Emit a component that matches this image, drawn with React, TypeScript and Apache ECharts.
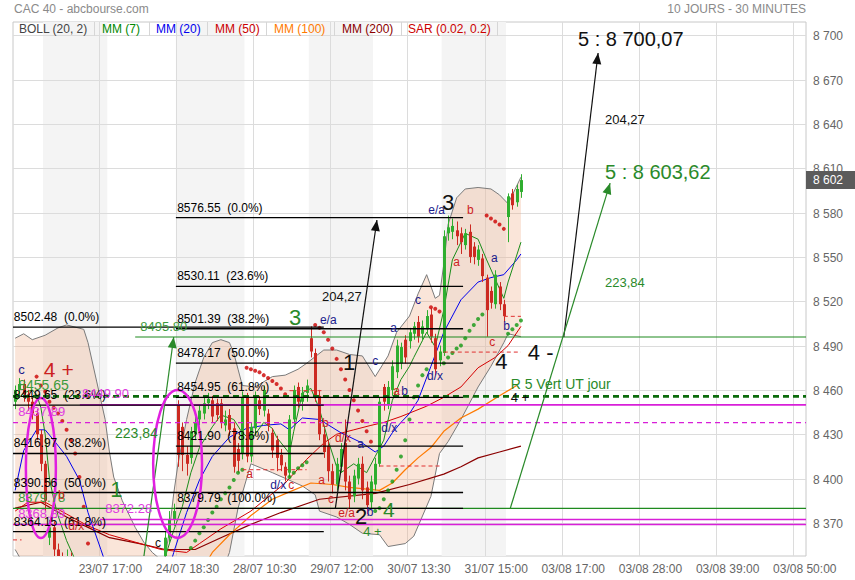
import React, { useEffect, useRef } from "react";
import * as echarts from "echarts";

const FONT = '"Liberation Sans", Arial, Helvetica, sans-serif';

// ---------- axes ----------
const TOTAL_BARS = 185;
const FIRST_LABEL_BAR = 20;
const BARS_PER_LABEL = 18;
const tickLabels = [
  "23/07 17:00", "24/07 18:30", "28/07 10:30", "29/07 12:00", "30/07 13:30",
  "31/07 15:00", "03/08 17:00", "03/08 28:00", "03/08 39:00", "03/08 50:00",
];
const priceTicks = [8370, 8400, 8430, 8460, 8490, 8520, 8550, 8580, 8610, 8640, 8670, 8700];
const Y_MIN = 8347.6;
const Y_MAX = 8709;
const lastPrice = 8602;
const dayShading = [[7, 21], [38, 53], [69, 83], [100, 114]];

// ---------- candles [open, close, low, high] ----------
const candles = [
  [8452, 8460, 8447, 8463], [8460, 8464, 8456, 8468], [8464, 8457, 8452, 8467], [8457, 8452, 8446, 8460],
  [8452, 8444, 8440, 8455], [8444, 8430, 8426, 8447], [8430, 8410, 8405, 8433], [8410, 8385, 8378, 8412],
  [8360, 8367, 8355, 8372], [8367, 8352, 8347, 8371], [8352, 8344, 8338, 8356], [8344, 8336, 8330, 8350],
  [8336, 8346, 8330, 8352], [8346, 8334, 8328, 8350], [8334, 8325, 8318, 8338], [8325, 8318, 8312, 8330],
  [8318, 8310, 8304, 8322], [8310, 8315, 8305, 8320], [8315, 8306, 8300, 8318], [8306, 8300, 8294, 8310],
  [8300, 8308, 8296, 8312], [8308, 8302, 8298, 8312], [8296, 8290, 8284, 8300], [8290, 8295, 8286, 8299],
  [8295, 8288, 8283, 8298], [8288, 8294, 8285, 8297], [8294, 8300, 8290, 8304], [8300, 8296, 8291, 8305],
  [8296, 8305, 8294, 8309], [8305, 8310, 8300, 8314], [8310, 8306, 8301, 8315], [8306, 8316, 8303, 8320],
  [8316, 8322, 8312, 8326], [8322, 8330, 8318, 8334], [8330, 8338, 8326, 8342], [8342, 8360, 8338, 8364],
  [8360, 8372, 8356, 8378], [8372, 8378, 8368, 8383], [8450, 8416, 8408, 8453], [8435, 8416, 8405, 8438],
  [8416, 8410, 8402, 8422], [8414, 8432, 8410, 8435], [8430, 8438, 8426, 8442], [8440, 8446, 8436, 8450],
  [8444, 8451, 8440, 8455], [8451, 8454, 8447, 8458], [8453, 8442, 8438, 8456], [8451, 8443, 8439, 8454],
  [8451, 8438, 8434, 8454], [8436, 8440, 8432, 8446], [8443, 8433, 8429, 8447], [8434, 8408, 8404, 8438],
  [8420, 8412, 8404, 8424], [8417, 8455, 8413, 8459], [8455, 8415, 8411, 8458], [8415, 8435, 8411, 8438],
  [8434, 8456, 8430, 8459], [8453, 8447, 8443, 8456], [8446, 8460, 8442, 8463], [8444, 8436, 8432, 8447],
  [8431, 8419, 8414, 8434], [8426, 8414, 8405, 8429], [8416, 8409, 8405, 8420], [8408, 8402, 8398, 8411],
  [8404, 8440, 8401, 8443], [8440, 8460, 8436, 8463], [8462, 8452, 8448, 8465], [8452, 8458, 8446, 8462],
  [8458, 8463, 8452, 8467], [8495, 8486, 8482, 8503], [8485, 8456, 8452, 8488], [8456, 8430, 8426, 8460],
  [8430, 8418, 8414, 8434], [8422, 8405, 8398, 8426], [8405, 8396, 8390, 8410], [8396, 8410, 8392, 8414],
  [8408, 8420, 8404, 8424], [8424, 8398, 8392, 8440], [8398, 8386, 8380, 8402], [8388, 8402, 8384, 8406],
  [8400, 8410, 8396, 8414], [8410, 8392, 8386, 8415], [8394, 8382, 8376, 8398], [8384, 8398, 8380, 8402],
  [8396, 8410, 8392, 8414], [8410, 8452, 8408, 8455], [8462, 8452, 8446, 8464], [8450, 8462, 8447, 8466],
  [8460, 8476, 8456, 8480], [8472, 8490, 8468, 8494], [8478, 8489, 8474, 8492], [8494, 8482, 8478, 8497],
  [8493, 8499, 8488, 8502], [8498, 8503, 8494, 8506], [8506, 8496, 8492, 8510], [8498, 8503, 8493, 8507],
  [8501, 8510, 8498, 8514], [8511, 8496, 8492, 8515], [8495, 8474, 8470, 8498], [8480, 8486, 8476, 8490],
  [8485, 8564, 8483, 8568], [8566, 8570, 8561, 8578], [8567, 8571, 8562, 8576], [8568, 8564, 8558, 8574],
  [8566, 8560, 8552, 8570], [8558, 8566, 8555, 8569], [8567, 8550, 8546, 8572], [8557, 8550, 8545, 8560],
  [8548, 8555, 8544, 8558], [8549, 8537, 8533, 8552], [8536, 8514, 8496, 8538], [8527, 8519, 8515, 8530],
  [8518, 8538, 8515, 8541], [8530, 8518, 8514, 8533], [8518, 8510, 8506, 8521], [8577, 8591, 8560, 8593],
  [8593, 8585, 8582, 8596], [8587, 8596, 8584, 8599], [8594, 8602, 8590, 8606],
];

// ---------- indicators [bar, value] ----------
const bollUpper = [
  [0, 8495], [2, 8498], [4, 8494], [7, 8497], [10, 8502], [12, 8504], [16, 8501], [17, 8492], [19, 8466],
  [21, 8440], [22, 8418], [23, 8401], [25, 8385], [28, 8367], [30, 8357], [32, 8350], [34, 8345], [35, 8347],
  [36, 8365], [37, 8390], [38, 8410], [40, 8440], [42, 8465], [44, 8482], [46, 8492], [48, 8494], [50, 8492],
  [51, 8485], [52, 8474], [53, 8463], [56, 8462], [60, 8469], [63, 8470], [66, 8474], [68, 8478], [72, 8487],
  [75, 8487], [78, 8484], [81, 8483], [84, 8469], [87, 8483], [89, 8499], [92, 8510], [94, 8525], [96, 8538],
  [98, 8522], [99, 8524], [100, 8545], [101, 8572], [103, 8590], [105, 8596], [108, 8597], [111, 8596],
  [113, 8592], [115, 8586], [117, 8598], [118, 8604],
];
const bollLower = [
  [0, 8352], [1, 8347], [3, 8336], [6, 8320], [10, 8290], [20, 8250], [30, 8240], [40, 8260], [45, 8300],
  [48, 8335], [50, 8350], [52, 8380], [55, 8410], [60, 8404], [67, 8395], [70, 8389], [71, 8378], [75, 8374],
  [78, 8369], [81, 8363], [85, 8362], [87, 8354], [91, 8356], [93, 8361], [97, 8388], [99, 8417], [101, 8425],
  [104, 8440], [108, 8462], [111, 8476], [114, 8492], [115, 8498], [118, 8496],
];
const mm7 = [
  [0, 8452], [2, 8458], [4, 8460], [5, 8457], [6, 8448], [7, 8430], [8, 8400], [9, 8386], [10, 8375],
  [12, 8358], [14, 8345], [16, 8330], [25, 8300], [33, 8315], [35, 8347], [37, 8365], [39, 8381], [41, 8404],
  [43, 8421], [46, 8435], [48, 8443], [51, 8440], [53, 8431], [55, 8426], [58, 8438], [60, 8434], [61, 8428],
  [64, 8417], [65, 8432], [67, 8458], [69, 8461], [71, 8447], [73, 8426], [75, 8408], [76, 8404], [79, 8410],
  [81, 8406], [82, 8404], [84, 8415], [86, 8426], [88, 8453], [90, 8467], [92, 8476], [93, 8482], [96, 8499],
  [98, 8489], [100, 8514], [102, 8548], [105, 8566], [108, 8562], [110, 8548], [112, 8535], [114, 8522],
  [115, 8533], [118, 8560],
];
const mm20 = [
  [0, 8392], [2, 8419], [5, 8433], [7, 8433], [9, 8426], [12, 8415], [15, 8399], [17, 8377], [20, 8352],
  [22, 8335], [30, 8300], [35, 8330], [37, 8350], [40, 8377], [43, 8399], [46, 8415], [50, 8428], [54, 8434],
  [58, 8436], [62, 8437], [64, 8433], [67, 8441], [71, 8440], [76, 8431], [81, 8424], [84, 8418], [86, 8422],
  [88, 8431], [90, 8438], [92, 8444], [94, 8453], [97, 8476], [100, 8499], [104, 8521], [108, 8533],
  [111, 8536], [114, 8538], [117, 8548], [118, 8552],
];
const mm50 = [
  [0, 8378], [3, 8384], [7, 8384], [12, 8376], [17, 8368], [22, 8362], [28, 8357], [34, 8352], [40, 8350],
  [43, 8356], [48, 8366], [55, 8378], [63, 8397], [68, 8413], [72, 8424], [75, 8430], [79, 8433], [83, 8436],
  [86, 8438], [90, 8442], [96, 8449], [100, 8455], [104, 8462], [108, 8475], [112, 8482], [115, 8490],
  [118, 8503],
];
const mm100 = [
  [44, 8340], [46, 8350], [50, 8362], [55, 8375], [60, 8386], [64, 8391], [69, 8397], [74, 8396], [78, 8394],
  [85, 8392], [88, 8397], [91, 8406], [94, 8414], [97, 8421], [100, 8432], [104, 8441], [108, 8447],
  [113, 8456], [117, 8463],
];
const mm200 = [
  [0, 8380], [6, 8384], [12, 8374], [17, 8367], [22, 8360], [29, 8356], [35, 8352], [42, 8352], [48, 8360],
  [55, 8369], [62, 8377], [71, 8386], [84, 8390], [92, 8396], [100, 8403], [104, 8408], [108, 8414],
  [113, 8418], [118, 8422],
];
const sarRed = [
  [5, 8469], [6, 8463], [7, 8459], [8, 8452], [9, 8448], [10, 8444], [11, 8439], [12, 8433], [13, 8426],
  [14, 8417], [15, 8401], [16, 8381], [17, 8356],
  [54, 8475], [55, 8474], [56, 8473], [57, 8472], [58, 8470], [59, 8468], [60, 8466], [61, 8464], [62, 8461],
  [63, 8457],
  [70, 8504], [71, 8502], [72, 8499], [73, 8494], [74, 8488], [75, 8481], [76, 8474], [77, 8467], [78, 8460],
  [79, 8453], [80, 8446], [81, 8439], [82, 8432], [83, 8425],
  [97, 8516], [98, 8515], [99, 8513],
  [110, 8578], [111, 8576], [112, 8574], [113, 8572], [114, 8569],
];
const sarGreen = [
  [38, 8335], [39, 8341], [40, 8347], [41, 8353], [42, 8358], [43, 8363], [44, 8367], [45, 8372], [46, 8377],
  [47, 8381], [48, 8386], [49, 8390], [50, 8394], [51, 8399], [52, 8404], [53, 8406],
  [64, 8401], [65, 8404], [66, 8407], [67, 8409], [68, 8411],
  [84, 8378], [85, 8380], [86, 8386], [87, 8392], [88, 8398], [89, 8406], [90, 8415], [91, 8426], [92, 8440],
  [93, 8455], [94, 8463], [95, 8470], [96, 8474],
  [100, 8478], [101, 8482], [102, 8485], [103, 8488], [104, 8490], [105, 8495], [106, 8500], [107, 8504],
  [108, 8508], [109, 8511],
  [115, 8498], [116, 8501], [117, 8504], [118, 8507],
];

// ---------- drawn annotations ----------
const fibLeftLevels = [8502.48, 8449.65, 8416.97, 8390.56, 8364.15];
const fibLeftPct = ["0.0%", "23.6%", "38.2%", "50.0%", "61.8%"];
const fibLeftEnd = [72, 72, 72, 104.5, 72];
const fibRightLevels = [8576.55, 8530.11, 8501.39, 8478.17, 8454.95, 8421.9, 8379.79];
const fibRightPct = ["0.0%", "23.6%", "38.2%", "50.0%", "61.8%", "78.6%", "100.0%"];

const levelLines = [
  { v: 8455.65, from: -0.5, color: "#0b6b0b", width: 2.6, dash: [6, 4], at: 0.7, size: 14, tc: "#3c9a3c" },
  { v: 8379.78, from: -0.5, color: "#1f8a1f", width: 1.2, at: 0.7, size: 13, tc: "#3c9a3c" },
  { v: 8495.8, from: 28, color: "#1f8a1f", width: 1.2, at: 29.2, size: 13, tc: "#3c9a3c" },
  { v: 8449.9, from: 15.1, color: "#d81fd8", width: 1.6, at: 15.6, size: 13, tc: "#e040e0" },
  { v: 8437.89, from: -0.5, color: "#d81fd8", width: 1.2, dash: [5, 4], at: 0.7, size: 13, tc: "#e040e0" },
  { v: 8372.28, from: 19.8, color: "#d81fd8", width: 1.6, at: 21, size: 13, tc: "#e040e0" },
  { v: 8368.89, from: -0.5, color: "#d81fd8", width: 1.6, at: 0.7, size: 13, tc: "#e040e0" },
];
const redDashed = [
  [-0.5, 8358.5, 1.5], [53, 8406, 68], [64, 8459.5, 72], [85, 8408.5, 99], [100, 8485.6, 118], [114, 8509.8, 118],
];
const arrows = [
  { from: [74.7, 8379.8], to: [84.4, 8575], color: "#111111" },
  { from: [128, 8495.8], to: [136, 8688], color: "#111111" },
  { from: [26.5, 8272], to: [37, 8495.8], color: "#2a8a2a" },
  { from: [115.5, 8379.78], to: [138.8, 8600], color: "#2a8a2a" },
];
const ellipses = [
  { c: [6, 8407.2], rx: 3.5, ry: 47.4 },
  { c: [37.9, 8410], rx: 5.7, ry: 50 },
];
const NAVY = "#1a1a8c", RED = "#cc1f1f", GREEN = "#2a8a2a", BLACK = "#111111";
const texts = [
  ["5 : 8 700,07", 131.3, 8697.3, BLACK, 20],
  ["204,27", 137.6, 8643.1, BLACK, 13],
  ["5 : 8 603,62", 137.6, 8607.8, GREEN, 20],
  ["223,84", 137.6, 8532.6, GREEN, 13],
  ["204,27", 71.6, 8523.1, BLACK, 13],
  ["3", 63.9, 8508.9, GREEN, 22],
  ["e/a", 71.1, 8507.5, NAVY, 12],
  ["1", 76.5, 8478.4, BLACK, 22],
  ["c", 83.3, 8479.8, NAVY, 12],
  ["a", 87.5, 8502, NAVY, 12],
  ["c", 93.3, 8521.1, NAVY, 12],
  ["e/a", 96.4, 8582, NAVY, 12],
  ["3", 99.6, 8586.8, BLACK, 22],
  ["b", 105.4, 8582, RED, 12],
  ["a", 102.2, 8546.8, RED, 12],
  ["a", 111, 8549.6, NAVY, 12],
  ["b", 113.9, 8503.5, NAVY, 12],
  ["c", 110.6, 8492.6, RED, 12],
  ["4", 112, 8479, BLACK, 22],
  ["4 -", 119.6, 8485.2, BLACK, 22],
  ["R 5 Vert UT jour", 115.6, 8464.2, GREEN, 14],
  ["4 +", 115.6, 8454.7, BLACK, 13],
  ["d/x", 96.1, 8469.6, NAVY, 12],
  ["a", 88.2, 8459.4, RED, 12],
  ["b", 90.1, 8459.4, NAVY, 12],
  ["d/x", 85.4, 8434.3, NAVY, 12],
  ["a", 79.8, 8423.5, NAVY, 12],
  ["d/x", 74.6, 8427.6, RED, 12],
  ["b", 71.6, 8437.7, RED, 12],
  ["a", 70.7, 8399.1, RED, 12],
  ["c", 73, 8386.2, RED, 12],
  ["e/a", 75.4, 8376.7, RED, 12],
  ["2", 79.3, 8374.5, BLACK, 22],
  ["b", 82, 8377.4, NAVY, 12],
  ["4", 85.8, 8378.8, GREEN, 21],
  ["4 +", 81.2, 8364.5, GREEN, 13],
  ["d/x", 59.5, 8395.7, NAVY, 12],
  ["c", 63.7, 8395.7, RED, 12],
  ["a", 53.9, 8403.2, RED, 12],
  ["c", 32.6, 8356.4, BLACK, 12],
  ["1", 22.2, 8392.3, GREEN, 22],
  ["223,84", 23.3, 8431, GREEN, 14],
  ["c", 0.7, 8473.6, NAVY, 13],
  ["4 +", 6.7, 8473.6, RED, 21],
  ["b", 10, 8389, RED, 12],
  ["d/x", 12.4, 8368, RED, 12],
];

const legendItems = [
  ["BOLL (20, 2)", 19, "#444444"], ["MM (7)", 102, "#008800"], ["MM (20)", 156, "#0000ee"],
  ["MM (50)", 215, "#cc0000"], ["MM (100)", 274, "#ff7a00"], ["MM (200)", 342, "#8b0000"],
  ["SAR (0.02, 0.2)", 408, "#cc0000"],
];
const legendSeparators = [94, 149, 207, 266, 334, 401, 497];

// ---------- helpers ----------
const categories = Array.from({ length: TOTAL_BARS }, (_, i) => String(i));
const labelIndex = (i: number) => {
  const k = (i - FIRST_LABEL_BAR) / BARS_PER_LABEL;
  return Number.isInteger(k) && k >= 0 && k < tickLabels.length ? k : -1;
};
const fmtPrice = (v: number) => `${Math.floor(v / 1000)} ${String(v % 1000).padStart(3, "0")}`;
const candleData = candles.map((c, i) => [i, c[0], c[1], c[2], c[3]]);

function makePx(api: any) {
  const bw = api.size([1, 0])[0];
  return (i: number, v: number) => {
    const b = Math.floor(i);
    const p = api.coord([b, v]);
    return [p[0] + (i - b) * bw, p[1]];
  };
}

function renderBackground(params: any, api: any) {
  const px = makePx(api);
  const cs = params.coordSys;
  const children: any[] = [];
  dayShading.forEach(([a, b]) => {
    const x1 = px(a - 0.5, Y_MAX)[0];
    const x2 = px(b + 0.5, Y_MAX)[0];
    children.push({ type: "rect", shape: { x: x1, y: cs.y, width: x2 - x1, height: cs.height }, style: { fill: "#f4f4f4" } });
  });
  for (let i = FIRST_LABEL_BAR; i < TOTAL_BARS; i += BARS_PER_LABEL) {
    const x = Math.round(px(i - 0.5, Y_MAX)[0]) + 0.5;
    children.push({ type: "line", shape: { x1: x, y1: cs.y, x2: x, y2: cs.y + cs.height }, style: { stroke: "#dcdcdc", lineWidth: 1 } });
  }
  priceTicks.forEach((v) => {
    const y = Math.round(px(0, v)[1]) + 0.5;
    children.push({ type: "line", shape: { x1: cs.x, y1: y, x2: cs.x + cs.width, y2: y }, style: { stroke: "#dcdcdc", lineWidth: 1 } });
    children.push({
      type: "text", x: cs.x + cs.width + 7, y,
      style: { text: fmtPrice(v), fill: "#666666", fontSize: 12, fontFamily: FONT, align: "left", verticalAlign: "middle" },
    });
  });
  const yp = px(0, lastPrice)[1];
  children.push({ type: "rect", shape: { x: cs.x + cs.width, y: yp - 9, width: 60, height: 18 }, style: { fill: "#5b5b5b" }, z2: 10 });
  children.push({
    type: "text", x: cs.x + cs.width + 7, y: yp, z2: 11,
    style: { text: fmtPrice(lastPrice), fill: "#ffffff", fontSize: 12, fontFamily: FONT, align: "left", verticalAlign: "middle" },
  });
  return { type: "group", children };
}

function renderBandFill(params: any, api: any) {
  const px = makePx(api);
  const pts = [
    ...bollUpper.map(([i, v]) => px(i, v)),
    ...bollLower.slice().reverse().map(([i, v]) => px(i, v)),
  ];
  return { type: "polygon", shape: { points: pts }, style: { fill: "rgba(240,170,130,0.30)" } };
}

function renderCandle(params: any, api: any) {
  const i = api.value(0);
  const o = api.value(1), c = api.value(2), l = api.value(3), h = api.value(4);
  const pO = api.coord([i, o]);
  const pC = api.coord([i, c]);
  const pL = api.coord([i, l]);
  const pH = api.coord([i, h]);
  const color = c >= o ? "#2fae2f" : "#cc2a22";
  const x = Math.round(pO[0]);
  const top = Math.min(pO[1], pC[1]);
  const bot = Math.max(pO[1], pC[1]);
  return {
    type: "group",
    children: [
      { type: "line", shape: { x1: x + 0.5, y1: pH[1], x2: x + 0.5, y2: pL[1] }, style: { stroke: color, lineWidth: 1 } },
      { type: "rect", shape: { x: x - 1, y: top, width: 3, height: Math.max(1, bot - top) }, style: { fill: color } },
    ],
  };
}

function renderAnnotations(params: any, api: any) {
  const px = makePx(api);
  const children: any[] = [];
  const seg = (a: number[], b: number[], color: string, width: number, dash?: number[]) => {
    children.push({
      type: "line", shape: { x1: a[0], y1: a[1], x2: b[0], y2: b[1] },
      style: { stroke: color, lineWidth: width, lineDash: dash || null },
    });
  };
  const label = (text: string, p: number[], color: string, size: number, dy = 0) => {
    children.push({
      type: "text", x: p[0], y: p[1] + dy, z2: 5,
      style: { text, fill: color, fontSize: size, fontFamily: FONT, align: "left", verticalAlign: "middle" },
    });
  };
  levelLines.forEach((l) => {
    seg(px(l.from, l.v), px(TOTAL_BARS - 0.5, l.v), l.color, l.width, l.dash);
  });
  fibLeftLevels.forEach((v, k) => seg(px(-0.5, v), px(fibLeftEnd[k], v), "#000000", 1.3));
  fibRightLevels.forEach((v) => seg(px(37.5, v), px(104.5, v), "#000000", 1.3));
  redDashed.forEach(([a, v, b]) => seg(px(a, v), px(b, v), "#e03030", 1, [4, 3]));
  arrows.forEach((ar) => {
    const a = px(ar.from[0], ar.from[1]);
    const b = px(ar.to[0], ar.to[1]);
    seg(a, b, ar.color, 1.2);
    const dx = b[0] - a[0], dy = b[1] - a[1];
    const len = Math.sqrt(dx * dx + dy * dy) || 1;
    const ux = dx / len, uy = dy / len;
    const L = 11, W = 4.5;
    const bx = b[0] - ux * L, by = b[1] - uy * L;
    children.push({
      type: "polygon",
      shape: { points: [[b[0], b[1]], [bx - uy * W, by + ux * W], [bx + uy * W, by - ux * W]] },
      style: { fill: ar.color },
    });
  });
  const bw = api.size([1, 0])[0];
  ellipses.forEach((e) => {
    const c = px(e.c[0], e.c[1]);
    const ry = Math.abs(px(0, e.c[1] + e.ry)[1] - c[1]);
    children.push({
      type: "ellipse", shape: { cx: c[0], cy: c[1], rx: e.rx * bw, ry },
      style: { fill: "none", stroke: "#e020e0", lineWidth: 2.5 },
    });
  });
  fibLeftLevels.forEach((v, k) => label(`${v.toFixed(2)}  (${fibLeftPct[k]})`, px(-0.3, v), "#000000", 12, -10));
  fibRightLevels.forEach((v, k) => label(`${v.toFixed(2)}  (${fibRightPct[k]})`, px(37.8, v), "#000000", 12, -10));
  levelLines.forEach((l) => label(l.v.toFixed(2), px(l.at, l.v), l.tc, l.size, -11));
  texts.forEach((t: any) => label(t[0], px(t[1], t[2]), t[3], t[4]));
  return { type: "group", children };
}

function buildOption() {
  const lineSeries = (name: string, data: number[][], color: string, width = 1, z = 4) => ({
    name, type: "line", data, showSymbol: false, symbol: "none", z, silent: true,
    lineStyle: { color, width }, itemStyle: { color }, clip: true,
  });
  return {
    animation: false,
    backgroundColor: "#ffffff",
    textStyle: { fontFamily: FONT },
    grid: { left: 13, right: 49, top: 22, bottom: 24, show: true, borderColor: "#c8c8c8", borderWidth: 1, backgroundColor: "transparent" },
    xAxis: {
      type: "category", data: categories, boundaryGap: true,
      axisLine: { show: false }, axisTick: { show: false }, splitLine: { show: false },
      axisLabel: {
        interval: (i: number) => labelIndex(i) >= 0,
        formatter: (_v: string, i: number) => (labelIndex(i) >= 0 ? tickLabels[labelIndex(i)] : ""),
        color: "#666666", fontSize: 12, fontFamily: FONT, padding: [0, 0, 0, 19], margin: 7,
      },
    },
    yAxis: {
      type: "value", min: Y_MIN, max: Y_MAX, position: "right", scale: true,
      axisLine: { show: false }, axisTick: { show: false }, axisLabel: { show: false }, splitLine: { show: false },
    },
    series: [
      { type: "custom", name: "bg", renderItem: renderBackground, data: [[0, 8500]], z: 1, silent: true, clip: false },
      { type: "custom", name: "bollFill", renderItem: renderBandFill, data: [[0, 8500]], z: 2, silent: true, clip: true },
      lineSeries("BOLL up", bollUpper, "#7a7a7a", 1, 3),
      lineSeries("BOLL low", bollLower, "#7a7a7a", 1, 3),
      lineSeries("MM (200)", mm200, "#8b0000", 1.2),
      lineSeries("MM (100)", mm100, "#ff7a00", 1.2),
      lineSeries("MM (50)", mm50, "#d40000", 1),
      lineSeries("MM (20)", mm20, "#0000ee", 1),
      lineSeries("MM (7)", mm7, "#1a8c1a", 1),
      {
        name: "CAC 40", type: "custom", renderItem: renderCandle, data: candleData, z: 5, silent: true, clip: true,
        encode: { x: 0, y: [1, 2, 3, 4] },
      },
      { name: "SAR r", type: "scatter", data: sarRed, symbolSize: 4, z: 6, silent: true, itemStyle: { color: "#cc0000" } },
      { name: "SAR g", type: "scatter", data: sarGreen, symbolSize: 4, z: 6, silent: true, itemStyle: { color: "#119911" } },
      { type: "custom", name: "annotations", renderItem: renderAnnotations, data: [[0, 8500]], z: 7, silent: true, clip: true },
    ],
    graphic: [
      { type: "text", x: 14, y: 9, style: { text: "CAC 40 - abcbourse.com", fill: "#8a8a8a", fontSize: 12, fontFamily: FONT, verticalAlign: "middle" } },
      { type: "text", x: 806, y: 9, style: { text: "10 JOURS - 30 MINUTES", fill: "#8a8a8a", fontSize: 12, fontFamily: FONT, align: "right", verticalAlign: "middle" } },
      ...legendItems.map(([t, x, c]) => ({
        type: "text", x, y: 29, z: 50,
        style: { text: t, fill: c, fontSize: 12, fontFamily: FONT, verticalAlign: "middle" },
      })),
      ...legendSeparators.map((x) => ({
        type: "line", z: 50, shape: { x1: x + 0.5, y1: 22, x2: x + 0.5, y2: 36 }, style: { stroke: "#d6d6d6", lineWidth: 1 },
      })),
    ],
  };
}

export default function App() {
  const ref = useRef<HTMLDivElement>(null);
  useEffect(() => {
    document.body.style.margin = "0";
    const chart = echarts.init(ref.current as HTMLDivElement, null, { renderer: "svg" });
    chart.setOption(buildOption() as any);
    return () => chart.dispose();
  }, []);
  return <div ref={ref} style={{ position: "fixed", left: 0, top: 0, width: 855, height: 580 }} />;
}
